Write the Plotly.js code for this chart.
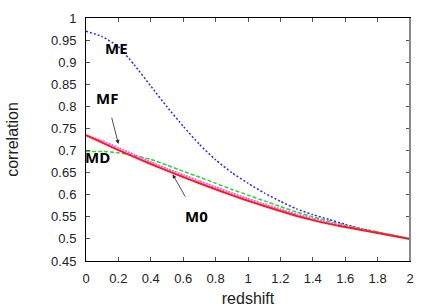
<!DOCTYPE html>
<html>
<head>
<meta charset="utf-8">
<script src="https://cdn.plot.ly/plotly-3.0.1.min.js"></script>
<style>html,body{margin:0;padding:0;background:#fff;}#chart{width:436px;height:307px;}</style>
</head>
<body>
<div id="chart"></div>
<script>
var redshift = [0, 0.1, 0.2, 0.3, 0.4, 0.5, 0.6, 0.7, 0.8, 0.9, 1.0, 1.1, 1.2, 1.3, 1.4, 1.5, 1.6, 1.7, 1.8, 1.9, 2.0];
var ME = [0.970, 0.958, 0.935, 0.893, 0.846, 0.799, 0.755, 0.714, 0.679, 0.650, 0.626, 0.604, 0.585, 0.568, 0.555, 0.544, 0.533, 0.523, 0.5155, 0.508, 0.500];
var MF = [0.734, 0.722, 0.706, 0.690, 0.674, 0.659, 0.645, 0.631, 0.6175, 0.604, 0.591, 0.579, 0.567, 0.556, 0.546, 0.537, 0.529, 0.5215, 0.514, 0.507, 0.500];
var MD = [0.698, 0.698, 0.695, 0.688, 0.680, 0.667, 0.653, 0.640, 0.626, 0.612, 0.599, 0.586, 0.573, 0.561, 0.550, 0.540, 0.531, 0.523, 0.5155, 0.5075, 0.500];
var M0 = [0.735, 0.718, 0.701, 0.685, 0.6695, 0.6545, 0.640, 0.626, 0.6125, 0.599, 0.5865, 0.5745, 0.563, 0.552, 0.5425, 0.534, 0.527, 0.520, 0.5135, 0.5065, 0.500];
var xTickVals = [0, 0.2, 0.4, 0.6, 0.8, 1, 1.2, 1.4, 1.6, 1.8, 2];
var xTickText = ["0", "0.2", "0.4", "0.6", "0.8", "1", "1.2", "1.4", "1.6", "1.8", "2"];
var yTickVals = [0.45, 0.5, 0.55, 0.6, 0.65, 0.7, 0.75, 0.8, 0.85, 0.9, 0.95, 1];
var yTickText = ["0.45", "0.5", "0.55", "0.6", "0.65", "0.7", "0.75", "0.8", "0.85", "0.9", "0.95", "1"];
var labels = [
  {name: "ME", x: 0.19, y: 0.933, ax: null, ay: null},
  {name: "MF", x: 0.2, y: 0.715, ax: 0.127, ay: 0.82},
  {name: "MD", x: 0.071, y: 0.686, ax: null, ay: null},
  {name: "M0", x: 0.535, y: 0.646, ax: 0.68, ay: 0.552}
];

var traces = [
  {x: redshift, y: ME, mode: "lines", line: {color: "#2a2aff", width: 1.5, dash: "2px,2px", shape: "spline", smoothing: 0.5}},
  {x: redshift, y: MD, mode: "lines", line: {color: "#22dd22", width: 1.5, dash: "4px,2px", shape: "spline", smoothing: 0.5}},
  {x: redshift, y: MF, mode: "lines", line: {color: "#ff55ff", width: 2, dash: "2px,1px", shape: "spline", smoothing: 0.5}},
  {x: redshift, y: M0, mode: "lines", line: {color: "#ff1a1a", width: 2, shape: "spline", smoothing: 0.5}}
];

var annotations = labels.map(function (l) {
  var a = {text: "<b>" + l.name + "</b>", xref: "x", yref: "y",
    font: {family: "Open Sans, DejaVu Sans, sans-serif", size: 15, color: "#000"}};
  if (l.ax === null) {
    a.x = l.x; a.y = l.y; a.showarrow = false;
  } else {
    a.x = l.x; a.y = l.y; a.ax = l.ax; a.ay = l.ay; a.axref = "x"; a.ayref = "y";
    a.showarrow = true; a.arrowhead = 2; a.arrowsize = 1; a.arrowwidth = 0.8; a.arrowcolor = "#222";
    a.standoff = 0; a.startstandoff = 9;
  }
  return a;
});

var layout = {
  width: 436, height: 307,
  margin: {l: 86, r: 26, t: 18, b: 46},
  paper_bgcolor: "#fff", plot_bgcolor: "#fff",
  showlegend: false,
  font: {family: "Liberation Sans, Arial, sans-serif", size: 13, color: "#222"},
  xaxis: {range: [0, 2], tickvals: xTickVals, ticktext: xTickText, ticks: "inside", ticklen: 4,
    tickcolor: "#555", showline: true, linecolor: "#000", linewidth: 1, mirror: "ticks",
    ticklabelstandoff: 5,
    showgrid: false, zeroline: false, title: {text: "redshift", font: {size: 16}, standoff: 8}},
  yaxis: {range: [0.45, 1], tickvals: yTickVals, ticktext: yTickText, ticks: "inside", ticklen: 4,
    tickcolor: "#555", showline: true, linecolor: "#000", linewidth: 1, mirror: "ticks",
    ticklabelstandoff: 6,
    showgrid: false, zeroline: false, title: {text: "correlation", font: {size: 16}, standoff: 28}},
  shapes: [{type: "line", xref: "paper", yref: "paper", x0: 1, x1: 1, y0: 0, y1: 1,
    line: {color: "#888", width: 2}}],
  annotations: annotations
};

Plotly.newPlot("chart", traces, layout, {staticPlot: true, displayModeBar: false});
</script>
</body>
</html>
